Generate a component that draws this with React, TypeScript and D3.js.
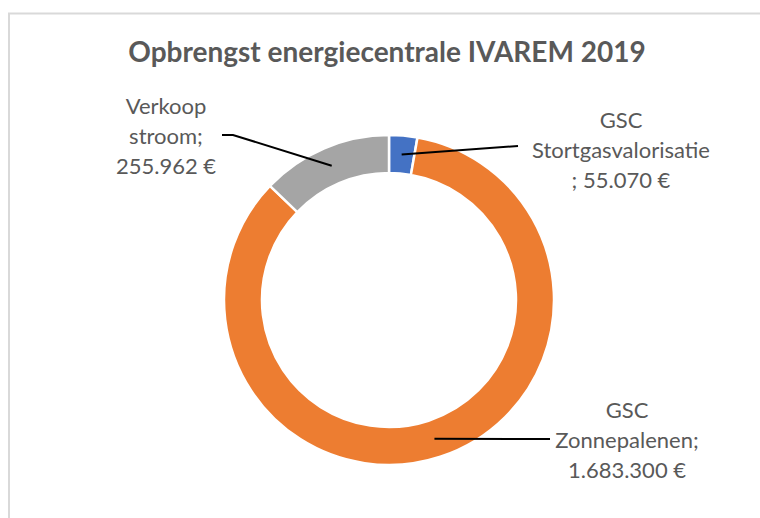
import React from 'react'
import * as d3 from 'd3'

const title = 'Opbrengst energiecentrale IVAREM 2019'
const categories = ['GSC Stortgasvalorisatie', 'GSC Zonnepalenen', 'Verkoop stroom']
const values = [55070, 1683300, 255962]
const labelLines = [
  ['GSC', 'Stortgasvalorisatie', '; 55.070 €'],
  ['GSC', 'Zonnepalenen;', '1.683.300 €'],
  ['Verkoop', 'stroom;', '255.962 €'],
]
const colors = ['#4472C4', '#ED7D31', '#A5A5A5']

// layout
const width = 760
const height = 518
const cx = 389
const cy = 300
const outerR = 165
const innerR = 127
const lineH = 30
// label block centre and where the leader line ends
const labelPos = [
  { x: 621, y: 150, end: [518, 146] },
  { x: 627, y: 440, end: [550, 439] },
  { x: 166, y: 136, end: [233, 135], elbow: [222, 135] },
]

export default function App() {
  const pie = d3.pie<number>().sort(null).value(d => d)
  const arcs = pie(values)
  const arc = d3.arc<d3.PieArcDatum<number>>().innerRadius(innerR).outerRadius(outerR)
  const font = 'Lato, "Open Sans", sans-serif'

  return (
    <svg width={width} height={height} style={{ display: 'block', position: 'absolute', left: 0, top: 0 }}>
      <rect x={0} y={0} width={width} height={height} fill="#fff" />
      <path d={`M9,${height + 2}V13.5H${width + 2}`} fill="none" stroke="#D9D9D9" strokeWidth={2} />
      <text x={387} y={62} textAnchor="middle" fontFamily={font} fontWeight="bold" fontSize={28}
        fill="#595959">{title}</text>
      <g transform={`translate(${cx},${cy})`}>
        {arcs.map((a, i) => (
          <path key={categories[i]} d={arc(a) || ''} fill={colors[i]} stroke="#fff" strokeWidth={2.5} />
        ))}
      </g>
      {arcs.map((a, i) => {
        const [mx, my] = arc.centroid(a)
        const p = labelPos[i]
        const pts: [number, number][] = [[cx + mx, cy + my], p.end as [number, number]]
        if (p.elbow) pts.push(p.elbow as [number, number])
        return (
          <path key={'l' + i} d={d3.line()(pts) || ''} fill="none" stroke="#000" strokeWidth={2} />
        )
      })}
      {labelLines.map((lines, i) => (
        <text key={'t' + i} textAnchor="middle" fontFamily={font} fontSize={22} fill="#595959">
          {lines.map((s, j) => (
            <tspan key={j} x={labelPos[i].x} y={labelPos[i].y + (j - 1) * lineH + 8}>{s}</tspan>
          ))}
        </text>
      ))}
    </svg>
  )
}
